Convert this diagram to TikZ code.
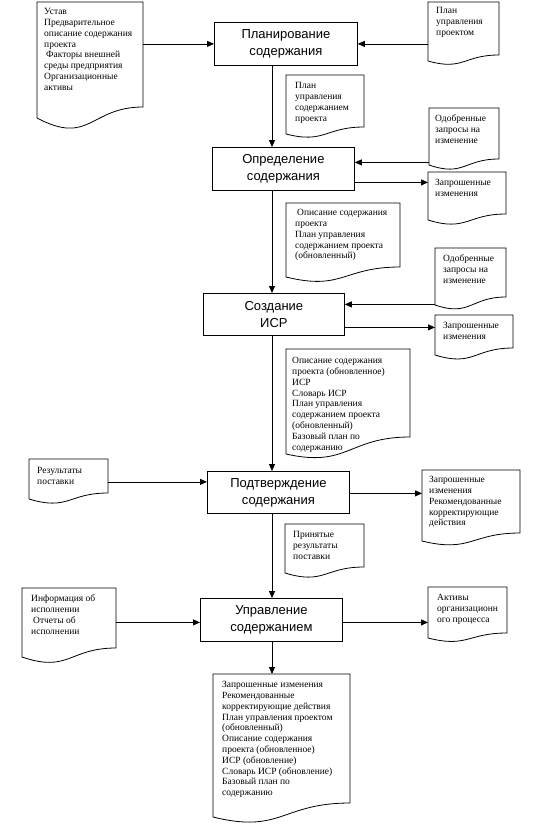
\documentclass[tikz,border=0pt]{standalone}
\usepackage{fontspec}
\setmainfont{Liberation Serif}
\newfontfamily\boxfont{Liberation Sans}
\usetikzlibrary{arrows.meta,calc}
\newcommand\ts{\rule{0pt}{7.5pt}}
\newcommand\docwave[3]{\draw[docline] (#1.north west) -- (#1.north east) -- ($(#1.south east)+(0,-#2)$) .. controls ($(#1.south)+(0,-#2)$) and ($(#1.south)+(0,#3)$) .. (#1.south west) -- cycle;}
\tikzset{
  process/.style={draw, line width=0.8pt, inner sep=0pt, anchor=north west, align=center, font=\boxfont\fontsize{13}{17}\selectfont},
  docframe/.style={inner sep=0pt, outer sep=0pt, anchor=north west},
  doctext/.style={inner sep=0pt, anchor=north west, align=left, font=\fontsize{9.5}{10.8}\selectfont},
  arr/.style={line width=0.8pt, -{Triangle[length=7pt,width=6pt]}},
  docline/.style={line width=0.8pt},
}
\begin{document}
\begin{tikzpicture}[x=1pt,y=-1pt]
\fill[white] (0,0) rectangle (552,835);
\useasboundingbox (0,0) rectangle (552,835);
\coordinate (spine) at (272,0);
% process boxes
\node[process, minimum width=143pt, minimum height=43pt] (b1) at (214,22) {Планирование\\содержания};
\node[process, minimum width=142pt, minimum height=43pt] (b2) at (212,147) {Определение\\содержания};
\node[process, minimum width=141pt, minimum height=42pt] (b3) at (203,293) {Создание\\ИСР};
\node[process, minimum width=142pt, minimum height=42pt] (b4) at (207,471) {Подтверждение\\содержания};
\node[process, minimum width=142pt, minimum height=43pt] (b5) at (200,598) {Управление\\содержанием};
% documents
\node[docframe, minimum width=106pt, minimum height=116pt] (d1) at (37,2) {};
\docwave{d1}{11}{28}
\node[doctext] (t1) at (44,7) {\ts Устав\\Предварительное\\описание содержания\\проекта\\\hspace*{2pt}Факторы внешней\\среды предприятия\\Организационные\\активы};
\node[docframe, minimum width=71pt, minimum height=59pt] (d2) at (428,2) {};
\docwave{d2}{6}{10}
\node[doctext] (t2) at (436,6) {\ts План\\управления\\проектом};
\node[docframe, minimum width=78pt, minimum height=59pt] (d3) at (286,75) {};
\docwave{d3}{7}{10}
\node[doctext] (t3) at (295,81) {\ts План\\управления\\содержанием\\проекта};
\node[docframe, minimum width=70pt, minimum height=57pt] (d4) at (429,108) {};
\docwave{d4}{6}{12}
\node[doctext] (t4) at (435,114) {\ts Одобренные\\запросы на\\изменение};
\node[docframe, minimum width=78pt, minimum height=48pt] (d5) at (428,172) {};
\docwave{d5}{6}{12}
\node[doctext] (t5) at (435,178) {\ts Запрошенные\\изменения};
\node[docframe, minimum width=114pt, minimum height=74pt] (d6) at (286,203) {};
\docwave{d6}{10}{14}
\node[doctext] (t6) at (295,208) {\ts \hspace*{2pt}Описание содержания\\проекта\\План управления\\содержанием проекта\\(обновленный)};
\node[docframe, minimum width=71pt, minimum height=57pt] (d7) at (435,248) {};
\docwave{d7}{8}{12}
\node[doctext] (t7) at (443,254) {\ts Одобренные\\запросы на\\изменение};
\node[docframe, minimum width=78pt, minimum height=40pt] (d8) at (435,315) {};
\docwave{d8}{7}{12}
\node[doctext] (t8) at (443,321) {\ts Запрошенные\\изменения};
\node[docframe, minimum width=124pt, minimum height=105pt] (d9) at (286,349) {};
\docwave{d9}{17}{14}
\node[doctext] (t9) at (292,356) {\ts Описание содержания\\проекта (обновленное)\\ИСР\\Словарь ИСР\\План управления\\содержанием проекта\\(обновленный)\\Базовый план по\\содержанию};
\node[docframe, minimum width=79pt, minimum height=40pt] (res) at (29,459) {};
\docwave{res}{6}{12}
\node[doctext] (tres) at (37,466) {\ts Результаты\\поставки};
\node[docframe, minimum width=98pt, minimum height=71pt] (d10) at (422,470) {};
\docwave{d10}{8}{12}
\node[doctext] (t10) at (429,475) {\ts Запрошенные\\изменения\\Рекомендованные\\корректирующие\\действия};
\node[docframe, minimum width=79pt, minimum height=49pt] (d11) at (285,524) {};
\docwave{d11}{6}{12}
\node[doctext] (t11) at (293,530) {\ts Принятые\\результаты\\поставки};
\node[docframe, minimum width=94pt, minimum height=69pt] (d12) at (22,588) {};
\docwave{d12}{9}{16}
\node[doctext] (t12) at (31,594) {\ts Информация об\\исполнении\\\hspace*{2pt}Отчеты об\\исполнении};
\node[docframe, minimum width=79pt, minimum height=51pt] (d13) at (428,587) {};
\docwave{d13}{5}{10}
\node[doctext] (t13) at (437,593) {\ts Активы\\организационн\\ого процесса};
\node[docframe, minimum width=137pt, minimum height=143pt] (d14) at (213,674) {};
\docwave{d14}{14}{17}
\node[doctext] (t14) at (222,680) {\ts Запрошенные изменения\\Рекомендованные\\корректирующие действия\\План управления проектом\\(обновленный)\\Описание содержания\\проекта (обновленное)\\ИСР (обновление)\\Словарь ИСР (обновление)\\Базовый план по\\содержанию};
% connectors
\draw[arr] (d1.east |- b1.west) -- (b1.west);
\draw[arr] (d2.west |- b1.east) -- (b1.east);
\draw[arr] (b1.south -| spine) -- (b2.north -| spine);
\coordinate (b2in) at ($(b2.east)+(0,-6.5)$);
\draw[arr] (b2in -| d4.west) -- (b2in);
\coordinate (b2out) at ($(b2.east)+(0,13.5)$);
\draw[arr] (b2out) -- (b2out -| d5.west);
\draw[arr] (b2.south -| spine) -- (b3.north -| spine);
\coordinate (b3in) at ($(b3.east)+(0,-10)$);
\draw[arr] (b3in -| d7.west) -- (b3in);
\coordinate (b3out) at ($(b3.east)+(0,13)$);
\draw[arr] (b3out) -- (b3out -| d8.west);
\draw[arr] (b3.south -| spine) -- (b4.north -| spine);
\coordinate (b4in) at ($(b4.west)+(0,-10.5)$);
\draw[arr] (b4in -| res.east) -- (b4in);
\coordinate (b4out) at ($(b4.east)+(0,1)$);
\draw[arr] (b4out) -- (b4out -| d10.west);
\draw[arr] (b4.south -| spine) -- (b5.north -| spine);
\coordinate (b5in) at ($(b5.west)+(0,2.5)$);
\draw[arr] (b5in -| d12.east) -- (b5in);
\coordinate (b5out) at ($(b5.east)+(0,2.5)$);
\draw[arr] (b5out) -- (b5out -| d13.west);
\draw[arr] (b5.south -| spine) -- (d14.north -| spine);
\end{tikzpicture}
\end{document}
